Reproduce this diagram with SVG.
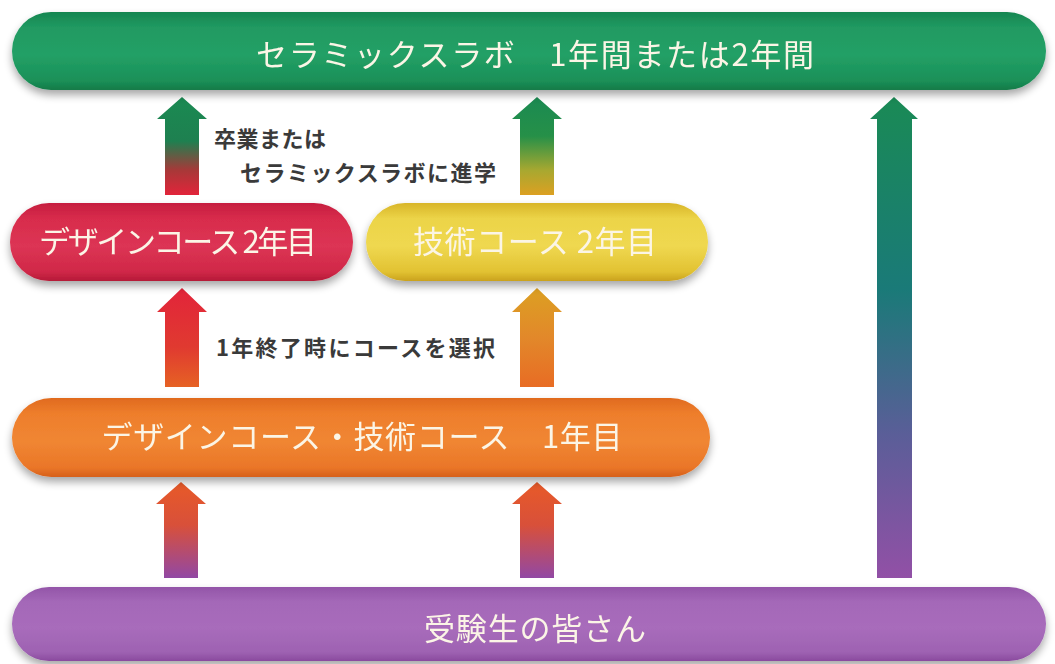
<svg xmlns="http://www.w3.org/2000/svg" width="1055" height="664" viewBox="0 0 1055 664">
<defs>
<style>
.pt{font-family:"Noto Sans CJK JP","Noto Sans",sans-serif;font-size:31px;fill:#fbf5e6;text-anchor:middle;}
.lb{font-family:"Noto Sans CJK JP","Noto Sans",sans-serif;font-size:22px;font-weight:bold;fill:#3a3a3a;}
</style>
<filter id="sh" x="-5%" y="-30%" width="110%" height="170%">
<feGaussianBlur in="SourceAlpha" stdDeviation="4"/>
<feOffset dx="0" dy="5"/>
<feComponentTransfer><feFuncA type="linear" slope="0.35"/></feComponentTransfer>
<feMerge><feMergeNode/><feMergeNode in="SourceGraphic"/></feMerge>
</filter>
<linearGradient id="gGreen" x1="0" y1="0" x2="0" y2="1">
<stop offset="0" stop-color="#168650"/><stop offset="0.2" stop-color="#209a62"/><stop offset="0.55" stop-color="#22a066"/><stop offset="0.88" stop-color="#1b9058"/><stop offset="1" stop-color="#147a48"/>
</linearGradient>
<linearGradient id="gRed" x1="0" y1="0" x2="0" y2="1">
<stop offset="0" stop-color="#c51d3e"/><stop offset="0.2" stop-color="#d82c4c"/><stop offset="0.55" stop-color="#dc3454"/><stop offset="0.88" stop-color="#d02848"/><stop offset="1" stop-color="#b51a38"/>
</linearGradient>
<linearGradient id="gYel" x1="0" y1="0" x2="0" y2="1">
<stop offset="0" stop-color="#d8b528"/><stop offset="0.2" stop-color="#ecd448"/><stop offset="0.55" stop-color="#efd850"/><stop offset="0.88" stop-color="#e2c232"/><stop offset="1" stop-color="#caa21e"/>
</linearGradient>
<linearGradient id="gOra" x1="0" y1="0" x2="0" y2="1">
<stop offset="0" stop-color="#e06a1e"/><stop offset="0.2" stop-color="#ee7e2c"/><stop offset="0.55" stop-color="#f08632"/><stop offset="0.88" stop-color="#ea7628"/><stop offset="1" stop-color="#d6601a"/>
</linearGradient>
<linearGradient id="gPur" x1="0" y1="0" x2="0" y2="1">
<stop offset="0" stop-color="#9355a8"/><stop offset="0.2" stop-color="#a468b8"/><stop offset="0.55" stop-color="#a86cbb"/><stop offset="0.88" stop-color="#9e62b2"/><stop offset="1" stop-color="#8a4a9e"/>
</linearGradient>
<linearGradient id="aGR" x1="0" y1="0" x2="0" y2="1">
<stop offset="0" stop-color="#1a8a52"/><stop offset="0.45" stop-color="#1e8050"/><stop offset="0.75" stop-color="#a83838"/><stop offset="1" stop-color="#e2243a"/>
</linearGradient>
<linearGradient id="aGY" x1="0" y1="0" x2="0" y2="1">
<stop offset="0" stop-color="#1a8a52"/><stop offset="0.4" stop-color="#269048"/><stop offset="0.75" stop-color="#a8a830"/><stop offset="1" stop-color="#dca022"/>
</linearGradient>
<linearGradient id="aLong" x1="0" y1="0" x2="0" y2="1">
<stop offset="0" stop-color="#1a8a55"/><stop offset="0.4" stop-color="#1a7a78"/><stop offset="0.7" stop-color="#5a5e98"/><stop offset="1" stop-color="#9250a6"/>
</linearGradient>
<linearGradient id="aRO" x1="0" y1="0" x2="0" y2="1">
<stop offset="0" stop-color="#e2243a"/><stop offset="0.6" stop-color="#e03a30"/><stop offset="1" stop-color="#e66224"/>
</linearGradient>
<linearGradient id="aYO" x1="0" y1="0" x2="0" y2="1">
<stop offset="0" stop-color="#dca022"/><stop offset="0.5" stop-color="#e2882a"/><stop offset="1" stop-color="#e86c24"/>
</linearGradient>
<linearGradient id="aOP" x1="0" y1="0" x2="0" y2="1">
<stop offset="0" stop-color="#e85a28"/><stop offset="0.45" stop-color="#d8503a"/><stop offset="1" stop-color="#9248a4"/>
</linearGradient>
</defs>
<rect width="1055" height="664" fill="#ffffff"/>

<g id="connectors">
<polygon points="182,97 207,119 199,119 199,195 165,195 165,119 157,119" fill="url(#aGR)"/>
<polygon points="537,97 562,119 554,119 554,195 520,195 520,119 512,119" fill="url(#aGY)"/>
<polygon points="894,97 918,119 912,119 912,578 877,578 877,119 870,119" fill="url(#aLong)"/>
<polygon points="182,288 207,312 199,312 199,387 165,387 165,312 157,312" fill="url(#aRO)"/>
<polygon points="537,288 562,312 554,312 554,387 520,387 520,312 512,312" fill="url(#aYO)"/>
<polygon points="181,482 206,504 198,504 198,578 164,578 164,504 156,504" fill="url(#aOP)"/>
<polygon points="537,482 562,504 554,504 554,578 520,578 520,504 512,504" fill="url(#aOP)"/>
<text class="lb" x="214" y="147" textLength="112" lengthAdjust="spacing">卒業または</text>
<text class="lb" x="240" y="181" textLength="256" lengthAdjust="spacing">セラミックスラボに進学</text>
<text class="lb" x="216" y="356" textLength="279" lengthAdjust="spacing">1年終了時にコースを選択</text>
</g>

<g id="node-lab" filter="url(#sh)">
<rect x="12" y="12" width="1034" height="78" rx="39" fill="url(#gGreen)"/>
<text class="pt" x="535" y="66" font-size="32" textLength="558" lengthAdjust="spacing">セラミックスラボ　1年間または2年間</text>
</g>

<g id="node-design2" filter="url(#sh)">
<rect x="10" y="203" width="343" height="78" rx="39" fill="url(#gRed)"/>
<text class="pt" x="178" y="253" textLength="278" lengthAdjust="spacing">デザインコース 2年目</text>
</g>

<g id="node-tech2" filter="url(#sh)">
<rect x="366" y="203" width="342" height="78" rx="39" fill="url(#gYel)"/>
<text class="pt" x="535" y="253" fill="#faf0c4" textLength="244" lengthAdjust="spacing">技術コース 2年目</text>
</g>

<g id="node-year1" filter="url(#sh)">
<rect x="12" y="398" width="698" height="79" rx="39.5" fill="url(#gOra)"/>
<text class="pt" x="362" y="448" textLength="521" lengthAdjust="spacing">デザインコース・技術コース　1年目</text>
</g>

<g id="node-applicants" filter="url(#sh)">
<rect x="12" y="587" width="1034" height="74" rx="37" fill="url(#gPur)"/>
<text class="pt" x="535" y="640" textLength="222" lengthAdjust="spacing">受験生の皆さん</text>
</g>
</svg>
